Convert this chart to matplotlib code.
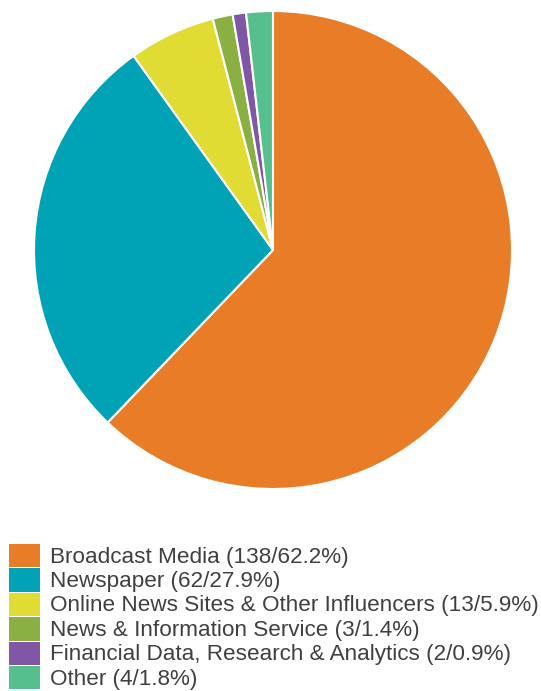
import matplotlib.pyplot as plt
from matplotlib.patches import Rectangle

labels = ['Broadcast Media', 'Newspaper', 'Online News Sites & Other Influencers',
          'News & Information Service', 'Financial Data, Research & Analytics', 'Other']
counts = [138, 62, 13, 3, 2, 4]
pcts = [62.2, 27.9, 5.9, 1.4, 0.9, 1.8]
colors = ['#E97C27', '#00A3B5', '#E0DC33', '#8AAF42', '#7F57A6', '#55C08E']

W, H = 541, 691
fig = plt.figure(figsize=(W / 100, H / 100), dpi=100)

cx, cy, r = 273, 250, 239
ax = fig.add_axes([(cx - r) / W, (H - cy - r) / H, 2 * r / W, 2 * r / H])
ax.pie(counts, colors=colors, startangle=90, counterclock=False,
       wedgeprops=dict(edgecolor='white', linewidth=1.5))
ax.set_xlim(-1, 1)
ax.set_ylim(-1, 1)
ax.set_aspect('equal')
ax.axis('off')

# legend, drawn in pixel positions of the figure
top = 544
step = 24.4
for i, (lab, n, p, c) in enumerate(zip(labels, counts, pcts, colors)):
    y0 = top + i * step
    fig.patches.append(Rectangle((9 / W, 1 - (y0 + step - 1) / H), 31 / W, (step - 1) / H,
                                 transform=fig.transFigure, facecolor=c, edgecolor='none'))
    fig.text(50 / W, 1 - (y0 + step / 2 + 1) / H, f'{lab} ({n}/{p}%)', fontsize=16.2,
             family='Liberation Sans', color='#404040', va='center', ha='left')

fig.savefig('out.png', dpi=100)
